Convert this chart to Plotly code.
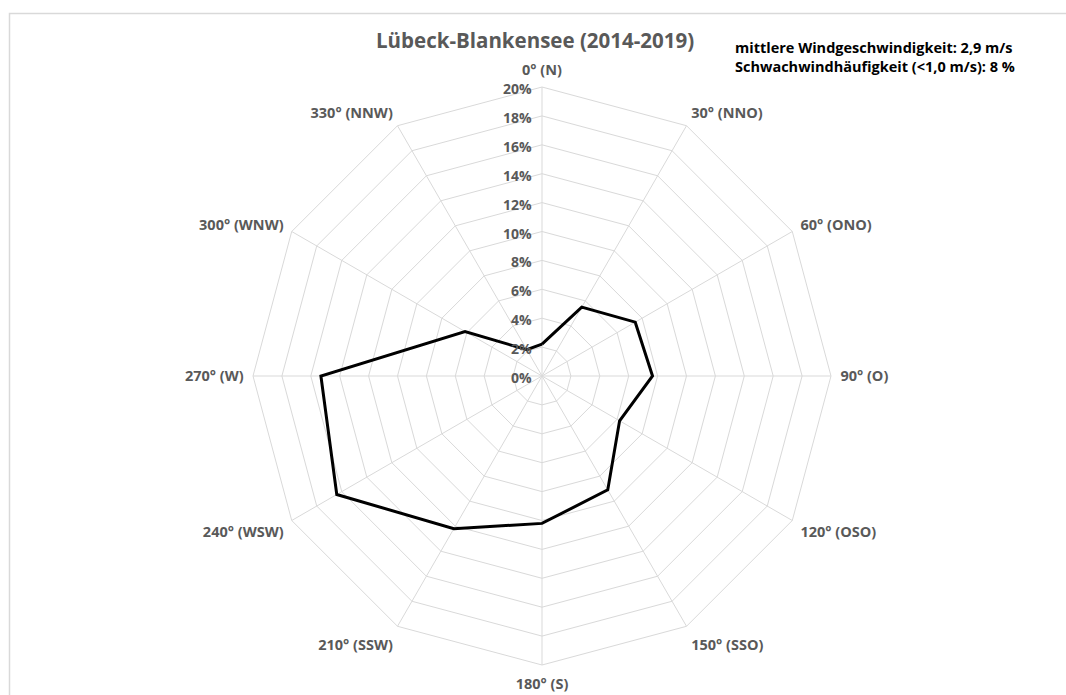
import plotly.graph_objects as go

directions = ["0° (N)", "30° (NNO)", "60° (ONO)", "90° (O)", "120° (OSO)", "150° (SSO)",
              "180° (S)", "210° (SSW)", "240° (WSW)", "270° (W)", "300° (WNW)", "330° (NNW)"]
frequency = [2.2, 5.5, 7.45, 7.65, 6.2, 9.1, 10.2, 12.2, 16.4, 15.3, 6.15, 2.1]
radial_ticks = [0, 2, 4, 6, 8, 10, 12, 14, 16, 18, 20]
radial_labels = [f"{v}%" for v in radial_ticks]

W, H = 1066, 695
cx, cy, R = 542, 376, 289

fig = go.Figure()
fig.add_trace(go.Scatterpolar(
    r=frequency + frequency[:1],
    theta=directions + directions[:1],
    mode="lines",
    line=dict(color="black", width=3),
    showlegend=False,
    hoverinfo="skip",
))

font_family = "Open Sans"
fig.update_layout(
    width=W, height=H,
    margin=dict(l=0, r=0, t=0, b=0),
    paper_bgcolor="white",
    plot_bgcolor="white",
    font=dict(family=font_family, color="#595959"),
    polar=dict(
        domain=dict(x=[(cx - R) / W, (cx + R) / W], y=[1 - (cy + R) / H, 1 - (cy - R) / H]),
        bgcolor="white",
        gridshape="linear",
        angularaxis=dict(
            direction="clockwise",
            rotation=90,
            categoryorder="array",
            categoryarray=directions,
            showline=True,
            linecolor="#d9d9d9",
            linewidth=1,
            gridcolor="#d9d9d9",
            gridwidth=1,
            ticks="outside",
            ticklen=6,
            tickcolor="rgba(0,0,0,0)",
            tickfont=dict(family=font_family, size=14.5, color="#595959", weight="bold"),
        ),
        radialaxis=dict(
            range=[0, 20],
            angle=90,
            side="counterclockwise",
            tickvals=radial_ticks,
            ticktext=radial_labels,
            showline=False,
            gridcolor="#d9d9d9",
            gridwidth=1,
            ticks="",
            tickfont=dict(family=font_family, size=14, color="#595959", weight="bold"),
        ),
    ),
    shapes=[dict(type="rect", xref="paper", yref="paper",
                 x0=9.5 / W, x1=1.02, y0=-0.02, y1=1 - 13.5 / H,
                 line=dict(color="#d9d9d9", width=1.5))],
    annotations=[
        dict(text="<b>Lübeck-Blankensee (2014-2019)</b>", xref="paper", yref="paper",
             x=535 / W, y=1 - 40 / H, xanchor="center", yanchor="middle", showarrow=False,
             font=dict(family=font_family, size=20.5, color="#595959")),
        dict(text="<b>mittlere Windgeschwindigkeit: 2,9 m/s<br>Schwachwindhäufigkeit (<1,0 m/s): 8 %</b>",
             xref="paper", yref="paper", x=733 / W, y=1 - 57 / H, xanchor="left", yanchor="middle",
             align="left", showarrow=False,
             font=dict(family=font_family, size=14.5, color="black")),
    ],
)

fig.write_html("out.html", config={"displayModeBar": False},
               post_script="document.body.style.margin='0';")
